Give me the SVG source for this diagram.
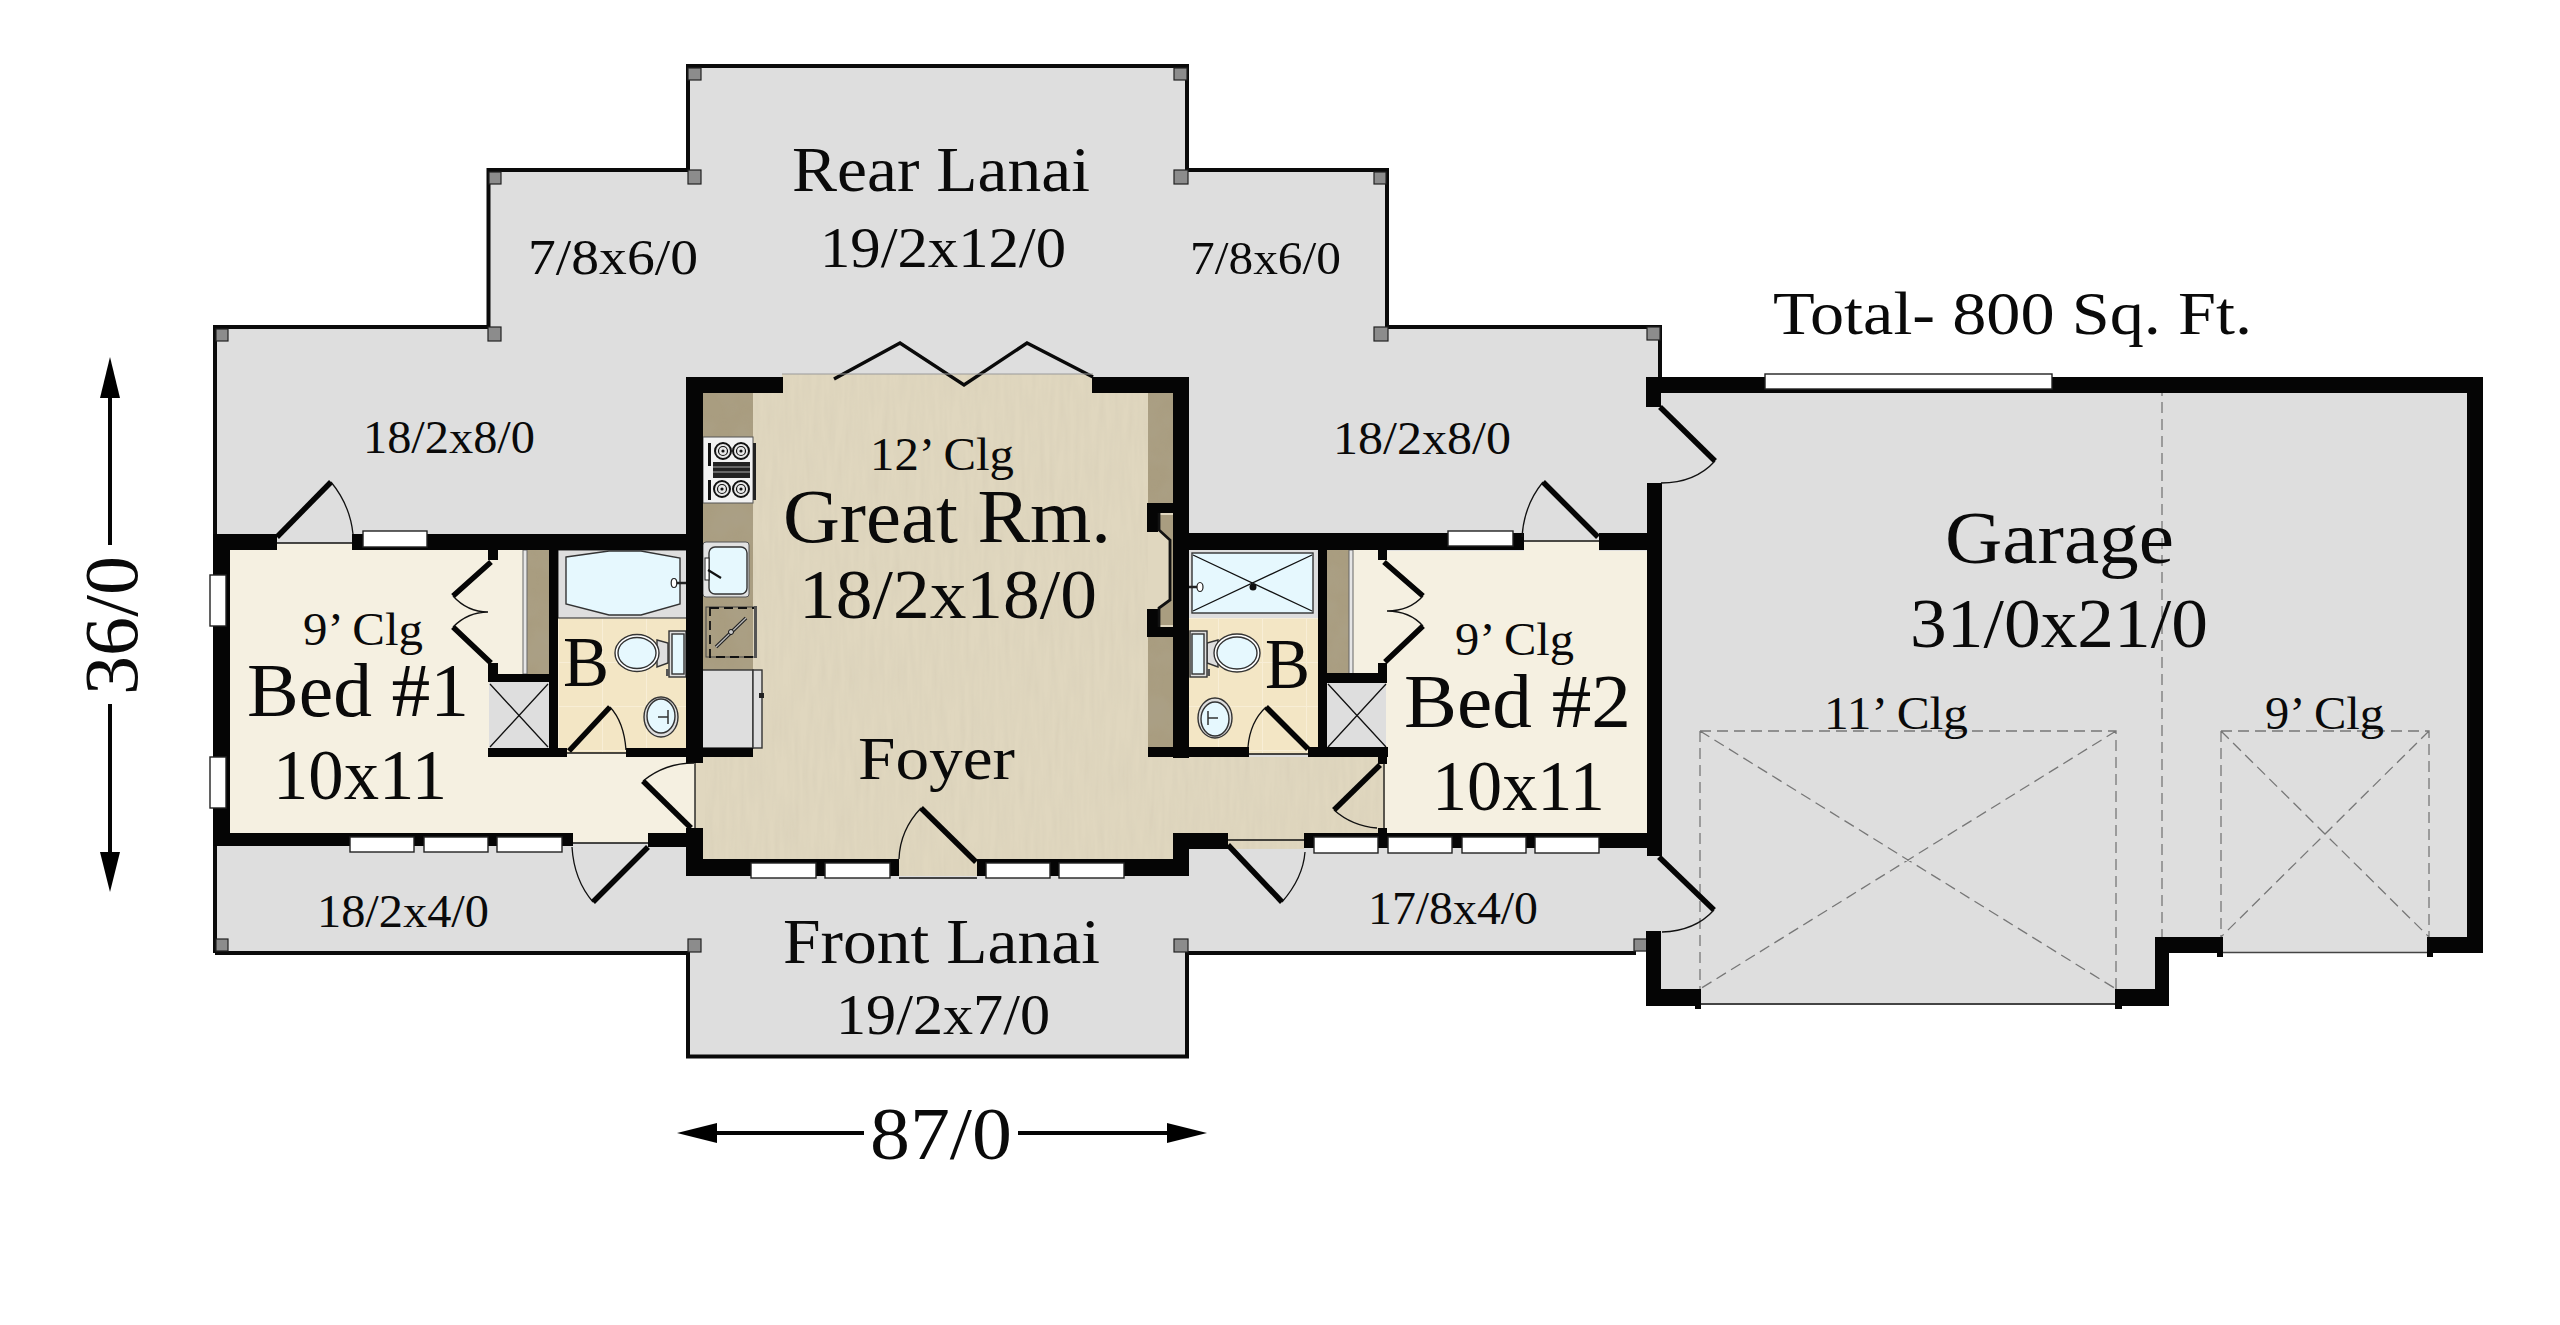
<svg xmlns="http://www.w3.org/2000/svg" xmlns:xlink="http://www.w3.org/1999/xlink" width="2560" height="1325" viewBox="0 0 2560 1325">
<style>
.t{font-family:"Liberation Serif","Times New Roman",serif;fill:#0a0a0a}
.w{fill:#050505}
.win{fill:#fff;stroke:#222;stroke-width:1.4}
.post{fill:#8c8c8c;stroke:#222;stroke-width:1.2}
.out{fill:none;stroke:#0a0a0a;stroke-width:4;stroke-linejoin:miter}
.leaf{fill:none;stroke:#050505;stroke-width:5.5}
.thin{fill:none;stroke:#111;stroke-width:1.3}
.dash{fill:none;stroke:#777;stroke-width:1.3;stroke-dasharray:11 6}
.floor{fill:#e0d7bf}
.cream{fill:#f5f0e1}
.tile{fill:#f3e6c5}
.ctr{fill:#a99d80}
.g{fill:#dedede}
.blue{fill:#e6f8fe;stroke:#333;stroke-width:1.4}
.fix{fill:#dedede;stroke:#333;stroke-width:1.4}
.dim{fill:none;stroke:#050505;stroke-width:4}
</style>
<defs>
<filter id="grain" x="0" y="0" width="100%" height="100%">
<feTurbulence type="fractalNoise" baseFrequency="0.2 0.02" numOctaves="2" seed="4"/>
<feColorMatrix values="0 0 0 0 0.66  0 0 0 0 0.6  0 0 0 0 0.46  0.8 0 0 0 -0.28"/>
<feComposite in2="SourceGraphic" operator="in" result="n"/>
<feMerge><feMergeNode in="SourceGraphic"/><feMergeNode in="n"/></feMerge>
</filter>
<filter id="mott" x="0" y="0" width="100%" height="100%">
<feTurbulence type="fractalNoise" baseFrequency="0.03" numOctaves="3" seed="9"/>
<feColorMatrix values="0 0 0 0 0.42  0 0 0 0 0.37  0 0 0 0 0.27  0.9 0 0 0 -0.3"/>
<feComposite in2="SourceGraphic" operator="in" result="n"/>
<feMerge><feMergeNode in="SourceGraphic"/><feMergeNode in="n"/></feMerge>
</filter>
<pattern id="tiles" width="44" height="44" patternUnits="userSpaceOnUse" x="558" y="618">
<rect width="44" height="44" fill="#f3e6c5"/><path d="M0 0H44M0 0V44" stroke="#f8eed6" stroke-width="2" fill="none"/>
</pattern>
<g id="burner"><circle r="8" fill="#e8e8e8" stroke="#111" stroke-width="2"/><circle r="4.5" fill="none" stroke="#111" stroke-width="1.2"/><circle r="1.6" fill="#111"/></g>
</defs>
<rect width="2560" height="1325" fill="#fff"/>

<g id="slabs">
<path class="g" d="M215,327H489V170H688V66H1187V170H1387V327H1660V1004H2160V953H2470V380H1650V952H1187V1056H688V952H215Z"/>
<path class="g" d="M1650,380H2470V953H2160V1004H1650Z"/>
<path class="floor" filter="url(#grain)" d="M782,374H1093V393H1148V757H1385V840H1304V849H1228V840H1173V859H1124V876H899V859H702V757H753V393H782Z"/>
<rect class="floor" x="695" y="757" width="10" height="71"/>
<path class="cream" d="M230,550H277V543H352V550H695V833H648V843H573V833H230Z"/>
<path class="cream" d="M1385,551H1524V540H1599V551H1647V833H1385Z"/>
<rect fill="url(#tiles)" x="558" y="618" width="129" height="135"/>
<rect fill="url(#tiles)" x="1189" y="618" width="129" height="136"/>
<path class="cream" d="M1353,550H1385V673H1353Z"/>
</g>

<g id="lanai-outline">
<path class="out" d="M215,953V327H488.500V170H688V66H1187V170H1387V327H1660V382"/>
<path class="out" d="M215,953H688V1056.500H1187V953H1636"/>
<rect class="post" x="216" y="329" width="12" height="12"/>
<rect class="post" x="488" y="327" width="13" height="14"/>
<rect class="post" x="489" y="172" width="12" height="12"/>
<rect class="post" x="688" y="170" width="13" height="14"/>
<rect class="post" x="688" y="68" width="13" height="12"/>
<rect class="post" x="1174" y="68" width="13" height="12"/>
<rect class="post" x="1174" y="170" width="14" height="14"/>
<rect class="post" x="1374" y="172" width="12" height="12"/>
<rect class="post" x="1374" y="327" width="14" height="14"/>
<rect class="post" x="1647" y="327" width="13" height="13"/>
<rect class="post" x="216" y="939" width="12" height="12"/>
<rect class="post" x="688" y="939" width="13" height="13"/>
<rect class="post" x="1174" y="939" width="14" height="13"/>
<rect class="post" x="1634" y="939" width="13" height="12"/>
</g>

<g id="kitchen">
<rect class="ctr" filter="url(#mott)" x="702" y="393" width="51" height="277"/>
<rect class="ctr" filter="url(#mott)" x="1148" y="393" width="25" height="355"/>
<g id="range">
<rect x="703" y="437" width="50" height="66" fill="#f2f2f2" stroke="#555" stroke-width="1"/>
<rect x="708" y="443" width="3" height="23" fill="#111"/><rect x="708" y="480" width="3" height="20" fill="#111"/>
<rect x="753" y="443" width="3" height="57" fill="#222"/>
<use xlink:href="#burner" x="723" y="451"/><use xlink:href="#burner" x="741" y="451"/>
<use xlink:href="#burner" x="722" y="489"/><use xlink:href="#burner" x="741" y="489"/>
<rect x="713" y="462" width="37" height="16" fill="#222"/>
<path d="M713,467H750M713,472H750" stroke="#aaa" stroke-width="1"/>
</g>
<g id="sink">
<rect x="703" y="542" width="46" height="55" rx="3" fill="#e2e2e2" stroke="#555" stroke-width="1"/>
<rect class="blue" x="709" y="547" width="38" height="47" rx="6"/>
<rect x="705" y="558" width="4" height="22" fill="#fff" stroke="#222"/>
<path d="M708,570L721,578" stroke="#111" stroke-width="2.200" fill="none"/>
</g>
<g id="dishwasher">
<rect x="706" y="607" width="50" height="50" fill="none" stroke="#444" stroke-width="1"/>
<rect x="710" y="608" width="46" height="49" fill="none" stroke="#111" stroke-width="1.800" stroke-dasharray="9 5"/>
<rect x="754" y="606" width="3" height="52" fill="#555"/>
<path d="M716,647L746,618" stroke="#222" stroke-width="3.600"/>
<path d="M716,647L746,618" stroke="#bbb" stroke-width="1.200"/>
<circle cx="731" cy="632" r="2.500" fill="#ccc" stroke="#111"/>
</g>
<g id="fridge">
<rect class="fix" x="702" y="670" width="51" height="78"/>
<rect class="fix" x="753" y="670" width="9" height="78" stroke="#444" stroke-width="2"/>
<rect x="759" y="693" width="5" height="5" fill="#222"/>
</g>
<g id="fireplace">
<rect class="floor" x="1148" y="513" width="25" height="115"/>
<rect class="ctr" x="1160" y="515" width="13" height="110"/>
<path class="floor" d="M1148,530H1157L1170,540V600L1157,608H1148Z"/>
<path class="w" d="M1147,503H1173V513H1158V532H1147Z"/>
<path class="w" d="M1147,609H1158V627H1175V637H1147Z"/>
<path fill="none" stroke="#111" stroke-width="2.800" d="M1159,513V530L1170,540V600L1159,608V627"/>
</g>
</g>

<g id="bath-1">
<rect class="g" x="558" y="550" width="129" height="68" stroke="#222" stroke-width="1"/>
<path class="blue" d="M566,557L609,551H641L680,558V604L641,615H609L566,604Z"/>
<path d="M687,583H675" stroke="#222" stroke-width="2.500"/>
<ellipse cx="674" cy="583" rx="2.800" ry="4.500" fill="#fff" stroke="#222" stroke-width="1.200"/>
<path class="fix" d="M657,640L668,643V663L657,667Z"/>
<ellipse cx="637" cy="653" rx="22" ry="18.500" fill="#fff" stroke="#333" stroke-width="1.400"/>
<ellipse cx="637" cy="653" rx="19" ry="15.500" class="blue"/>
<rect class="fix" x="669" y="631" width="17" height="46"/>
<rect class="blue" x="672" y="634" width="12" height="40"/>
<rect x="666" y="669" width="3" height="7" fill="#555"/>
<ellipse cx="661" cy="717" rx="17" ry="20" class="fix"/>
<ellipse cx="661" cy="716" rx="14" ry="17" class="blue"/>
<path d="M658,717H668M668,710V724" stroke="#333" stroke-width="1.500" fill="none"/>
<rect x="527" y="550" width="22" height="124" class="ctr" filter="url(#mott)"/>
<rect x="523" y="550" width="4" height="124" fill="#e6e6e6" stroke="#666" stroke-width="1"/>
<rect class="g" x="489" y="682" width="60" height="66"/>
<path class="thin" d="M490,684L548,747M548,684L490,747"/>
</g>

<g id="bath-2">
<rect class="g" x="1189" y="551" width="128" height="66"/>
<rect class="blue" x="1192" y="553" width="121" height="60"/>
<path class="thin" d="M1193,555L1312,611M1312,555L1193,611"/>
<circle cx="1253" cy="587" r="3.500" fill="#111"/>
<path d="M1188,587H1197" stroke="#222" stroke-width="2.500"/>
<ellipse cx="1200" cy="587" rx="3" ry="4.500" fill="#fff" stroke="#222" stroke-width="1.200"/>
<path class="fix" d="M1218,640L1207,643V663L1218,667Z"/>
<ellipse cx="1237" cy="653" rx="23" ry="19" fill="#fff" stroke="#333" stroke-width="1.400"/>
<ellipse cx="1237" cy="653" rx="20" ry="16" class="blue"/>
<rect class="fix" x="1190" y="631" width="17" height="46"/>
<rect class="blue" x="1192" y="634" width="12" height="40"/>
<rect x="1207" y="669" width="3" height="7" fill="#555"/>
<ellipse cx="1215" cy="718" rx="17" ry="20" class="fix"/>
<ellipse cx="1215" cy="719" rx="14" ry="17" class="blue"/>
<path d="M1218,718H1208M1208,711V725" stroke="#333" stroke-width="1.500" fill="none"/>
<rect x="1327" y="550" width="22" height="124" class="ctr" filter="url(#mott)"/>
<rect x="1349" y="550" width="4" height="124" fill="#e6e6e6" stroke="#666" stroke-width="1"/>
<rect class="g" x="1327" y="683" width="59" height="65"/>
<path class="thin" d="M1328,684L1386,747M1386,684L1328,747"/>
</g>

<g id="garage-lines">
<path class="dash" d="M2162,385V937"/>
<path class="dash" d="M1700,731H2116V989M1700,731V989M1700,731L2116,989M2116,731L1700,989"/>
<path class="dash" d="M2221,731H2429V937M2221,731V937M2221,731L2429,937M2429,731L2221,937"/>
<path d="M1700,1004H2116" stroke="#444" stroke-width="2"/>
<path d="M2223,952.500H2429" stroke="#444" stroke-width="1.600"/>
</g>

<g id="walls">
<rect class="w" x="213" y="534" width="64" height="16"/>
<rect class="w" x="352" y="534" width="75" height="16"/>
<rect class="w" x="427" y="534" width="276" height="16"/>
<rect class="w" x="213" y="534" width="17" height="312"/>
<rect class="w" x="213" y="833" width="360" height="13"/>
<rect class="w" x="648" y="833" width="55" height="14"/>
<rect class="w" x="686" y="377" width="17" height="386"/>
<rect class="w" x="686" y="828" width="17" height="48"/>
<rect class="w" x="686" y="377" width="97" height="16"/>
<rect class="w" x="1092" y="377" width="97" height="16"/>
<rect class="w" x="1173" y="377" width="16" height="381"/>
<rect class="w" x="686" y="859" width="213" height="17"/>
<rect class="w" x="977" y="859" width="212" height="17"/>
<rect class="w" x="1173" y="833" width="55" height="16"/>
<rect class="w" x="1173" y="833" width="16" height="43"/>
<rect class="w" x="1304" y="833" width="358" height="15"/>
<rect class="w" x="1173" y="533" width="351" height="17"/>
<rect class="w" x="1599" y="533" width="63" height="17"/>
<rect class="w" x="1647" y="483" width="15" height="373"/>
<rect class="w" x="488" y="550" width="10" height="10"/>
<rect class="w" x="488" y="663" width="10" height="19"/>
<rect class="w" x="488" y="674" width="70" height="8"/>
<rect class="w" x="549" y="550" width="9" height="207"/>
<rect class="w" x="488" y="748" width="79" height="9"/>
<rect class="w" x="626" y="748" width="77" height="9"/>
<rect class="w" x="702" y="748" width="51" height="9"/>
<rect class="w" x="1148" y="747" width="101" height="10"/>
<rect class="w" x="1308" y="747" width="80" height="10"/>
<rect class="w" x="1318" y="550" width="9" height="200"/>
<rect class="w" x="1327" y="673" width="60" height="10"/>
<rect class="w" x="1378" y="550" width="9" height="10"/>
<rect class="w" x="1378" y="663" width="9" height="20"/>
<rect class="w" x="1378" y="757" width="9" height="7"/>
<rect class="w" x="1378" y="828" width="9" height="20"/>
<rect class="w" x="1646" y="377" width="15" height="30"/>
<rect class="w" x="1646" y="377" width="837" height="16"/>
<rect class="w" x="2467" y="377" width="16" height="576"/>
<rect class="w" x="2428" y="937" width="55" height="16"/>
<rect class="w" x="2427" y="937" width="6" height="20"/>
<rect class="w" x="1646" y="931" width="15" height="75"/>
<rect class="w" x="1646" y="989" width="54" height="17"/>
<rect class="w" x="1695" y="989" width="6" height="20"/>
<rect class="w" x="2116" y="989" width="53" height="17"/>
<rect class="w" x="2115" y="989" width="7" height="20"/>
<rect class="w" x="2155" y="937" width="14" height="69"/>
<rect class="w" x="2155" y="937" width="68" height="16"/>
<rect class="w" x="2217" y="937" width="6" height="20"/>
</g>

<g id="windows">
<rect class="win" x="363" y="531" width="64" height="16"/>
<rect class="win" x="210" y="575" width="16" height="51"/>
<rect class="win" x="210" y="757" width="16" height="51"/>
<rect class="win" x="350" y="837" width="64" height="15"/>
<rect class="win" x="424" y="837" width="64" height="15"/>
<rect class="win" x="497" y="837" width="65" height="15"/>
<rect class="win" x="751" y="863" width="65" height="15"/>
<rect class="win" x="825" y="863" width="65" height="15"/>
<rect class="win" x="986" y="863" width="64" height="15"/>
<rect class="win" x="1059" y="863" width="65" height="15"/>
<rect class="win" x="1448" y="531" width="65" height="15"/>
<rect class="win" x="1314" y="837" width="64" height="16"/>
<rect class="win" x="1388" y="837" width="64" height="16"/>
<rect class="win" x="1462" y="837" width="64" height="16"/>
<rect class="win" x="1535" y="837" width="64" height="16"/>
<rect class="win" x="1765" y="374" width="287" height="15"/>
</g>

<g id="doors">
<path class="leaf" d="M277,537L331,482"/><path class="thin" d="M331,482Q350,505 353,534M277,543H352"/>
<path class="leaf" d="M648,847L593,902"/><path class="thin" d="M593,902Q574,880 572,847M573,843H648"/>
<path class="leaf" d="M491,562L453,596M453,627L491,663"/><path class="thin" d="M453,596C462,606 472,612 488,612C472,612 462,618 453,627"/>
<path class="leaf" d="M569,751L610,707"/><path class="thin" d="M610,707Q624,722 626,750M567,753H626"/>
<path class="leaf" d="M691,828L643,781"/><path class="thin" d="M643,781Q665,763 694,763M695,763V828"/>
<path class="leaf" d="M976,862L921,808"/><path class="thin" d="M921,808Q900,830 899,859M899,878H977"/>
<path d="M834,379L900,343L964,385L1027,343L1093,377" fill="none" stroke="#0a0a0a" stroke-width="3.400"/>
<path d="M782,374H1093" stroke="#999" stroke-width="1.200"/>
<path class="leaf" d="M1598,537L1543,482"/><path class="thin" d="M1543,482Q1524,505 1522,537M1524,541H1599"/>
<path class="leaf" d="M1384,562L1423,596M1423,626L1385,662"/><path class="thin" d="M1423,596C1414,606 1402,611 1387,611C1402,611 1414,616 1423,626"/>
<path class="leaf" d="M1308,749L1266,707"/><path class="thin" d="M1266,707Q1250,722 1248,747M1249,754H1308"/>
<path class="leaf" d="M1380,765L1334,810"/><path class="thin" d="M1334,810Q1352,826 1377,828M1384,763V828"/>
<path class="leaf" d="M1228,845L1282,902"/><path class="thin" d="M1282,902Q1303,878 1305,852M1228,840H1304"/>
<path class="leaf" d="M1659,857L1714,910"/><path class="thin" d="M1714,910Q1695,931 1662,932"/>
<path class="leaf" d="M1660,407L1715,461"/><path class="thin" d="M1715,461Q1695,483 1661,483"/>
</g>

<g id="dimensions">
<path class="dim" d="M717,1133H864M1018,1133H1167M110,398V545M110,704V852"/>
<path d="M677,1133L717,1123V1143Z"/><path d="M1207,1133L1167,1123V1143Z"/>
<path d="M110,357L100,398H120Z"/><path d="M110,892L100,852H120Z"/>
</g>

<g id="labels">
<text class="t" x="792" y="191" font-size="63" textLength="298" lengthAdjust="spacingAndGlyphs">Rear Lanai</text>
<text class="t" x="820" y="267" font-size="58" textLength="246" lengthAdjust="spacingAndGlyphs">19/2x12/0</text>
<text class="t" x="528" y="274" font-size="50" textLength="170" lengthAdjust="spacingAndGlyphs">7/8x6/0</text>
<text class="t" x="1190" y="274" font-size="47" textLength="151" lengthAdjust="spacingAndGlyphs">7/8x6/0</text>
<text class="t" x="363" y="453" font-size="46" textLength="172" lengthAdjust="spacingAndGlyphs">18/2x8/0</text>
<text class="t" x="1333" y="454" font-size="46" textLength="178" lengthAdjust="spacingAndGlyphs">18/2x8/0</text>
<text class="t" x="303" y="645" font-size="46" textLength="120" lengthAdjust="spacingAndGlyphs">9’ Clg</text>
<text class="t" x="247" y="716" font-size="76" textLength="222" lengthAdjust="spacingAndGlyphs">Bed #1</text>
<text class="t" x="273" y="799" font-size="71" textLength="174" lengthAdjust="spacingAndGlyphs">10x11</text>
<text class="t" x="563" y="686" font-size="72" textLength="46" lengthAdjust="spacingAndGlyphs">B</text>
<text class="t" x="317" y="927" font-size="46" textLength="172" lengthAdjust="spacingAndGlyphs">18/2x4/0</text>
<text class="t" x="870" y="470" font-size="47" textLength="144" lengthAdjust="spacingAndGlyphs">12’ Clg</text>
<text class="t" x="783" y="542" font-size="76" textLength="328" lengthAdjust="spacingAndGlyphs">Great Rm.</text>
<text class="t" x="799" y="618" font-size="69" textLength="298" lengthAdjust="spacingAndGlyphs">18/2x18/0</text>
<text class="t" x="858" y="779" font-size="62" textLength="157" lengthAdjust="spacingAndGlyphs">Foyer</text>
<text class="t" x="783" y="963" font-size="63" textLength="317" lengthAdjust="spacingAndGlyphs">Front Lanai</text>
<text class="t" x="836" y="1034" font-size="58" textLength="214" lengthAdjust="spacingAndGlyphs">19/2x7/0</text>
<text class="t" x="870" y="1159" font-size="74" textLength="142" lengthAdjust="spacingAndGlyphs">87/0</text>
<text class="t" transform="translate(137,695) rotate(-90)" font-size="76" textLength="139" lengthAdjust="spacingAndGlyphs">36/0</text>
<text class="t" x="1265" y="688" font-size="72" textLength="45" lengthAdjust="spacingAndGlyphs">B</text>
<text class="t" x="1455" y="655" font-size="46" textLength="119" lengthAdjust="spacingAndGlyphs">9’ Clg</text>
<text class="t" x="1404" y="727" font-size="76" textLength="227" lengthAdjust="spacingAndGlyphs">Bed #2</text>
<text class="t" x="1432" y="810" font-size="71" textLength="173" lengthAdjust="spacingAndGlyphs">10x11</text>
<text class="t" x="1368" y="924" font-size="46" textLength="170" lengthAdjust="spacingAndGlyphs">17/8x4/0</text>
<text class="t" x="1945" y="563" font-size="73" textLength="229" lengthAdjust="spacingAndGlyphs">Garage</text>
<text class="t" x="1910" y="647" font-size="69" textLength="298" lengthAdjust="spacingAndGlyphs">31/0x21/0</text>
<text class="t" x="1824" y="729" font-size="46" textLength="144" lengthAdjust="spacingAndGlyphs">11’ Clg</text>
<text class="t" x="2265" y="729" font-size="46" textLength="119" lengthAdjust="spacingAndGlyphs">9’ Clg</text>
<text class="t" x="1773" y="334" font-size="61" textLength="479" lengthAdjust="spacingAndGlyphs">Total- 800 Sq. Ft.</text>
</g>
</svg>
